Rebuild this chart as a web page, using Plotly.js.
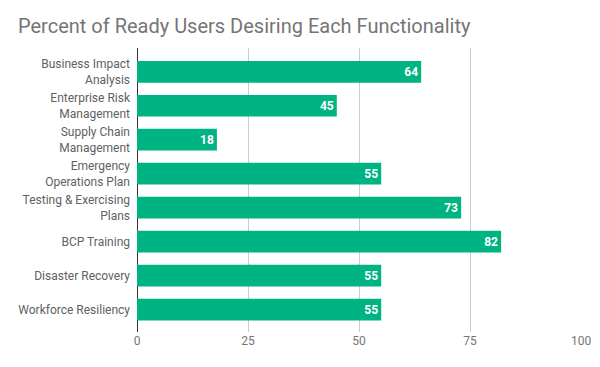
<!DOCTYPE html>
<html>
<head>
<meta charset="utf-8">
<script src="https://cdn.plot.ly/plotly-3.0.1.min.js"></script>
<style>html,body{margin:0;padding:0;background:#fff;}#chart{width:600px;height:367px;}</style>
</head>
<body>
<div id="chart"></div>
<script>
var categories = [
  "Business Impact<br>Analysis",
  "Enterprise Risk<br>Management",
  "Supply Chain<br>Management",
  "Emergency<br>Operations Plan",
  "Testing & Exercising<br>Plans",
  "BCP Training",
  "Disaster Recovery",
  "Workforce Resiliency"
];
var values = [64, 45, 18, 55, 73, 82, 55, 55];
var xTicks = [0, 25, 50, 75, 100];

var trace = {
  type: 'bar',
  orientation: 'h',
  y: categories,
  x: values,
  text: values.map(String),
  textposition: 'inside',
  insidetextanchor: 'end',
  textfont: {family: 'Roboto', size: 12, color: '#ffffff', weight: 'bold'},
  marker: {color: '#00b383'},
  width: 0.64,
  hoverinfo: 'none'
};

var layout = {
  width: 600, height: 367,
  margin: {l: 137, r: 19, t: 48, b: 35},
  paper_bgcolor: '#fff', plot_bgcolor: '#fff',
  title: {text: 'Percent of Ready Users Desiring Each Functionality', x: 0.03, xanchor: 'left', y: 0.93, yanchor: 'middle',
          font: {family: 'Roboto', size: 20, color: '#757575'}},
  xaxis: {range: [0, 100], tickvals: xTicks, ticktext: xTicks.map(String), showgrid: true, gridcolor: '#cccccc', gridwidth: 1,
          zeroline: true, zerolinecolor: '#333333', zerolinewidth: 1, showline: false, ticks: '',
          tickfont: {family: 'Roboto', size: 12, color: '#757575'}, fixedrange: true},
  yaxis: {type: 'category', range: [7.66, -0.7], showgrid: false, zeroline: false, showline: false, ticks: '',
          ticklabelstandoff: 6,
          tickfont: {family: 'Roboto', size: 12, color: '#616161'}, fixedrange: true},
  showlegend: false,
  bargap: 0.36
};

Plotly.newPlot('chart', [trace], layout, {displayModeBar: false, staticPlot: true});
</script>
</body>
</html>
